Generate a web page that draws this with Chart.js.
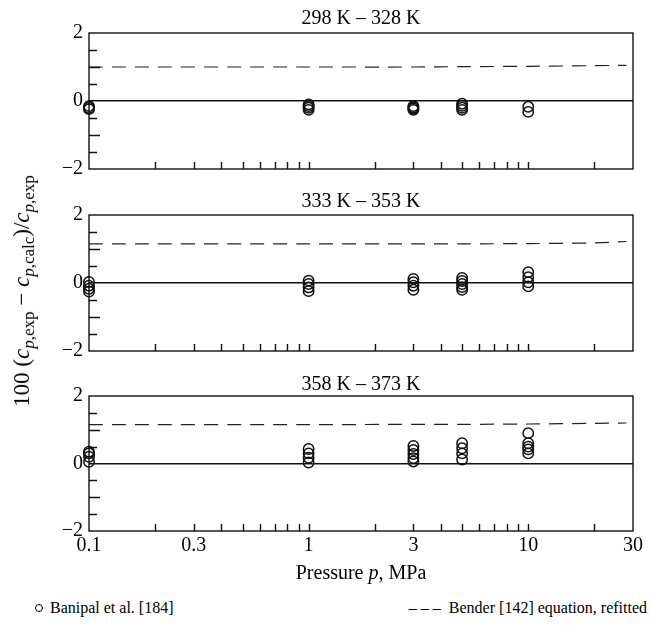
<!DOCTYPE html>
<html>
<head>
<meta charset="utf-8">
<script src="https://cdn.jsdelivr.net/npm/chart.js@4/dist/chart.umd.min.js"></script>
<style>
  body { margin: 0; background: #fff; width: 650px; height: 626px; overflow: hidden; position: relative;
         font-family: "Liberation Serif", "Times New Roman", serif; color: #000; }
  canvas { position: absolute; left: 0; }
  .ptitle { position: absolute; left: 89px; width: 544px; text-align: center; font-size: 20px; line-height: 20px; white-space: nowrap; }
  .ytitle { position: absolute; left: 22px; top: 291px; transform: translate(-50%, -50%) rotate(-90deg);
            font-size: 23px; white-space: nowrap; line-height: 26px; }
  .ytitle sub { font-size: 17px; vertical-align: -5px; line-height: 0; }
  .xtitle { position: absolute; left: 89px; width: 544px; top: 561px; text-align: center; font-size: 20px; line-height: 22px; }
  .legend { position: absolute; top: 598px; font-size: 16px; line-height: 20px; white-space: nowrap; }
  .ring { display: inline-block; width: 6px; height: 6px; border: 1.2px solid #000; border-radius: 50%; position: absolute; left: -15px; top: 6px; }
</style>
</head>
<body>
<canvas id="panel0" width="650" height="190" style="top:0px"></canvas>
<canvas id="panel1" width="650" height="180" style="top:190px"></canvas>
<canvas id="panel2" width="650" height="200" style="top:370px"></canvas>

<div class="ptitle" id="title0" style="top:7px"></div>
<div class="ptitle" id="title1" style="top:190px"></div>
<div class="ptitle" id="title2" style="top:373px"></div>

<div class="ytitle">100 (<i>c</i><sub><i>p</i>,exp</sub> − <i>c</i><sub><i>p</i>,calc</sub>)/<i>c</i><sub><i>p</i>,exp</sub></div>
<div class="xtitle">Pressure <i>p</i>, MPa</div>
<div class="legend" style="left:50px"><span class="ring"></span>Banipal et al. [184]</div>
<div class="legend" style="right:3px">– – –&nbsp;&nbsp;Bender [142] equation, refitted</div>

<script>
// Temperature ranges of the three panels
const panelTitles = ['298 K – 328 K', '333 K – 353 K', '358 K – 373 K'];

// Pressures (MPa) at which Banipal et al. measured
const pressureLevels = [0.1, 1, 3, 5, 10];

// Relative deviations 100(cp,exp − cp,calc)/cp,exp, one list per pressure level
const banipal298 = [
  [-0.15, -0.2, -0.24],
  [-0.1, -0.15, -0.2, -0.26],
  [-0.15, -0.19, -0.22, -0.26],
  [-0.08, -0.14, -0.2, -0.26],
  [-0.17, -0.32]
];
const banipal333 = [
  [0.03, -0.08, -0.17, -0.25],
  [0.07, -0.03, -0.13, -0.24],
  [0.12, 0.02, -0.08, -0.2],
  [0.15, 0.06, -0.03, -0.12, -0.2],
  [0.32, 0.17, 0.02, -0.1]
];
const banipal358 = [
  [0.35, 0.3, 0.2, 0.05],
  [0.43, 0.3, 0.17, 0.03],
  [0.52, 0.4, 0.28, 0.16, 0.06],
  [0.6, 0.45, 0.3, 0.12],
  [0.9, 0.6, 0.5, 0.42, 0.3]
];

// Refitted Bender equation, deviation curve
const benderPressure = [0.1, 1, 3, 5, 10, 20, 28];
const bender298 = [1.00, 1.00, 1.00, 1.01, 1.02, 1.04, 1.05];
const bender333 = [1.15, 1.15, 1.15, 1.15, 1.16, 1.18, 1.22];
const bender358 = [1.15, 1.15, 1.16, 1.16, 1.17, 1.19, 1.20];

// Axis ticks
const xTickLabels = [0.1, 0.3, 1, 3, 10, 30];
const xInnerTicks = [0.2, 0.3, 0.4, 0.5, 0.6, 0.7, 0.8, 0.9, 1, 2, 3, 4, 5, 6, 7, 8, 9, 10, 20];
const yTickLabels = [-2, 0, 2];
const yInnerTicks = [-1.5, -1, -0.5, 0.5, 1, 1.5];

const FONT = '"Liberation Serif", "Times New Roman", serif';

// Box around the plot area plus inward tick marks on the left and bottom axes
const frameTicks = {
  id: 'frameTicks',
  afterDraw(chart) {
    const { ctx, chartArea: a, scales: { x, y } } = chart;
    ctx.save();
    ctx.strokeStyle = '#111';
    ctx.lineWidth = 1.4;
    ctx.strokeRect(a.left, a.top, a.right - a.left, a.bottom - a.top);
    ctx.beginPath();
    for (const v of yInnerTicks) {
      const py = Math.round(y.getPixelForValue(v)) + 0.5;
      const len = Number.isInteger(v) ? 11 : 8;
      ctx.moveTo(a.left, py);
      ctx.lineTo(a.left + len, py);
    }
    for (const v of xInnerTicks) {
      const px = Math.round(x.getPixelForValue(v)) + 0.5;
      ctx.moveTo(px, a.bottom);
      ctx.lineTo(px, a.bottom - 7);
    }
    ctx.stroke();
    ctx.restore();
  }
};

function pointsFor(devs) {
  const pts = [];
  devs.forEach((list, i) => list.forEach(d => pts.push({ x: pressureLevels[i], y: d })));
  return pts;
}

function makePanel(id, devs, bender, areaTop, areaBottom, height, showX) {
  return new Chart(document.getElementById(id), {
    type: 'scatter',
    data: {
      datasets: [
        {
          data: pointsFor(devs),
          pointStyle: 'circle',
          pointRadius: 5.2,
          pointHoverRadius: 5.2,
          borderColor: '#111',
          backgroundColor: 'rgba(0,0,0,0)',
          borderWidth: 1.5,
          clip: false
        },
        {
          data: benderPressure.map((p, i) => ({ x: p, y: bender[i] })),
          showLine: true,
          borderColor: '#222',
          borderWidth: 1.2,
          borderDash: [14, 9],
          pointRadius: 0,
          tension: 0.3,
          fill: false
        }
      ]
    },
    options: {
      responsive: false,
      animation: false,
      events: [],
      layout: { padding: { top: areaTop, right: 17, left: 0, bottom: 0 } },
      plugins: { legend: { display: false }, title: { display: false }, tooltip: { enabled: false } },
      scales: {
        x: {
          type: 'logarithmic',
          min: 0.1,
          max: 30,
          afterBuildTicks: s => { s.ticks = xTickLabels.map(v => ({ value: v })); },
          afterFit: s => { s.height = height - areaBottom; },
          grid: { display: false, drawTicks: false },
          border: { display: false },
          ticks: {
            display: showX,
            padding: 3,
            color: '#000',
            maxRotation: 0,
            autoSkip: false,
            font: { family: FONT, size: 20 },
            callback: v => String(v)
          }
        },
        y: {
          min: -2,
          max: 2,
          afterBuildTicks: s => { s.ticks = yTickLabels.map(v => ({ value: v })); },
          afterFit: s => { s.width = 89; },
          grid: {
            drawTicks: false,
            lineWidth: 1.5,
            color: c => (c.tick && c.tick.value === 0 ? '#111' : 'rgba(0,0,0,0)')
          },
          border: { display: false },
          ticks: {
            padding: 6,
            color: '#000',
            font: { family: FONT, size: 20 },
            callback: v => (v < 0 ? '\u2212' + Math.abs(v) : String(v))
          }
        }
      }
    },
    plugins: [frameTicks]
  });
}

panelTitles.forEach((t, i) => { document.getElementById('title' + i).textContent = t; });

makePanel('panel0', banipal298, bender298, 33, 169, 190, false);
makePanel('panel1', banipal333, bender333, 25, 161, 180, false);
makePanel('panel2', banipal358, bender358, 26, 161, 200, true);
</script>
</body>
</html>
